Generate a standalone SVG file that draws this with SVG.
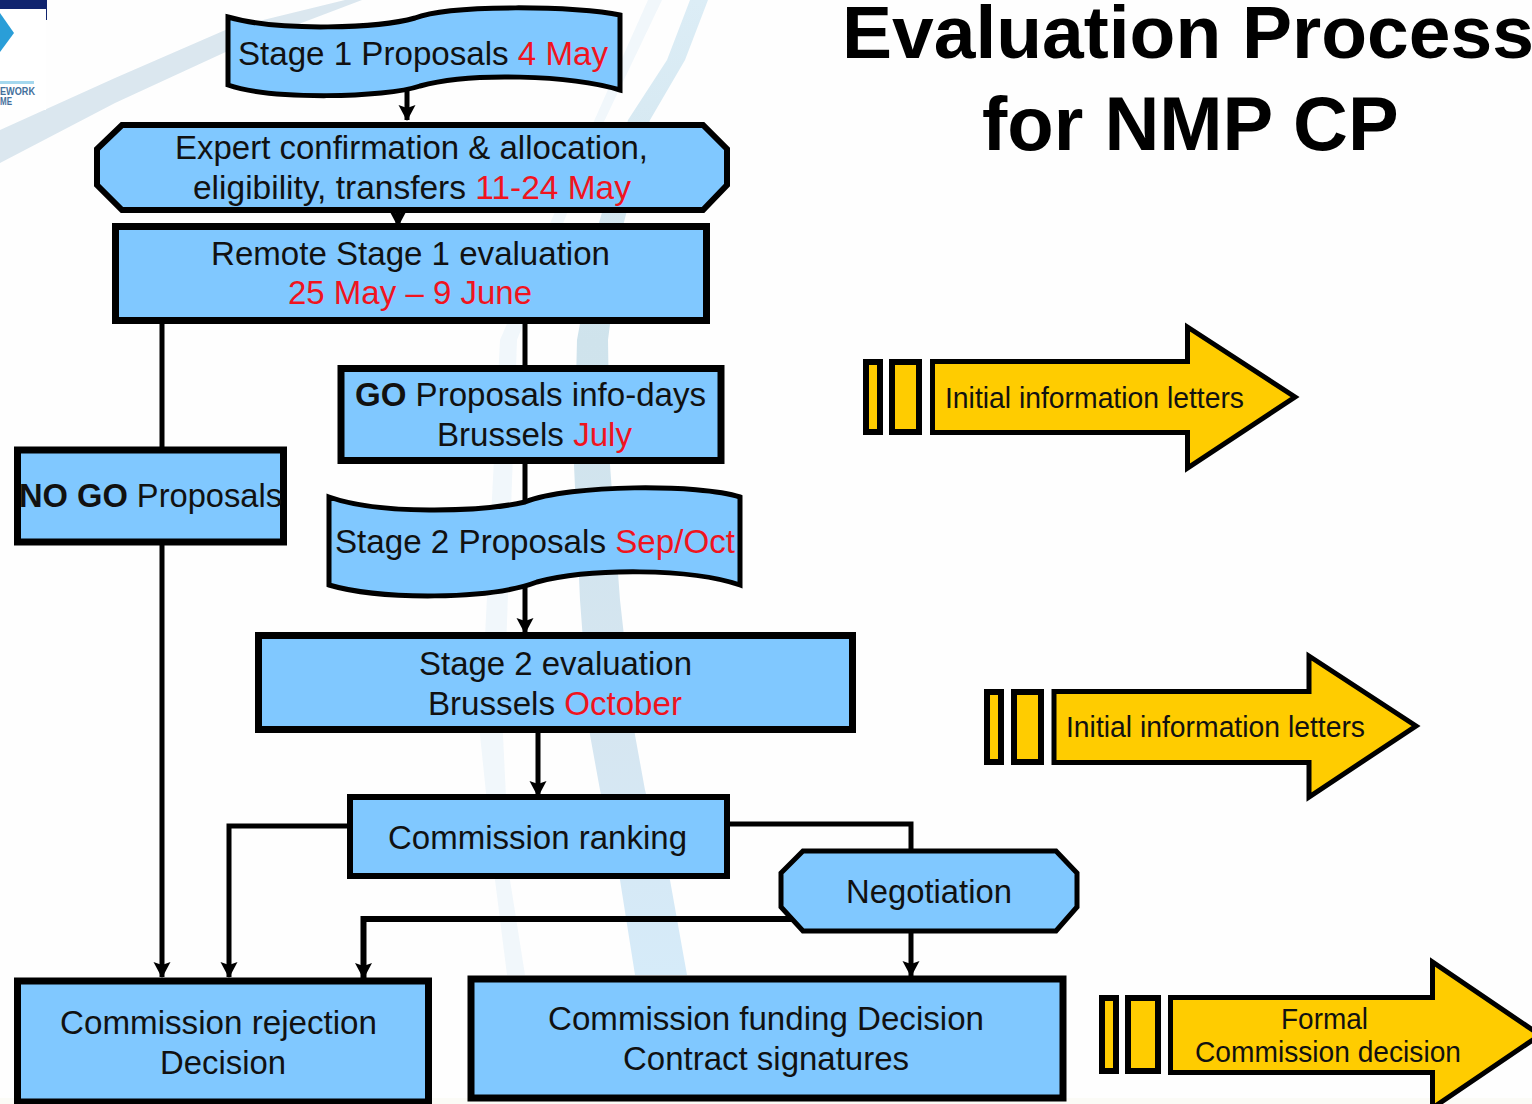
<svg xmlns="http://www.w3.org/2000/svg" width="1532" height="1104" viewBox="0 0 1532 1104">
<style>
text{font-family:"Liberation Sans",Arial,sans-serif;fill:#111}
.t{font-size:33px}
.y{font-size:29px}
.h{font-size:76px;font-weight:700;fill:#000}
.b{font-weight:700}
.r{fill:#f0141e}
.n{fill:#80c8ff;stroke:#000;stroke-width:6}
.a{fill:#ffcc00;stroke:#000;stroke-width:5}
.c{fill:none;stroke:#000;stroke-width:5}
</style>
<defs>
<marker id="ah" markerUnits="userSpaceOnUse" markerWidth="17" markerHeight="18" refX="15" refY="8.500" orient="auto"><path d="M0,0L16,8.500L0,17L3,8.500Z" fill="#000"/></marker>
<linearGradient id="bandR" x1="0" y1="0" x2="0" y2="1"><stop offset="0" stop-color="#dcedf6"/><stop offset="0.35" stop-color="#cfe3ec"/><stop offset="0.75" stop-color="#d6e6f1"/><stop offset="1" stop-color="#d6ebf9"/></linearGradient>
</defs>
<rect width="1532" height="1104" fill="#fefefe"/>
<g id="background">
<path d="M0,130L115,78L230,28L345,0H362L230,50L115,103L0,163Z" fill="#dbe7ef"/>
<path d="M690,0L667,60L628,120L597,230L577,340L574,465L580,600L590,735L600,790L620,880L635,975H687L670,880L645,790L635,735L620,600L610,465L608,340L622,230L650,120L685,60L708,0Z" fill="url(#bandR)"/>
<path d="M648,0L590,130L500,340L480,735L495,880L507,975H525L510,880L503,735L517,340L600,130L662,0Z" fill="#f1f7fb"/>
<rect y="1098" width="1532" height="6" fill="#fbfbf6"/>
</g>
<g id="logo">
<rect x="0" y="8" width="46" height="102" fill="#fff"/>
<rect x="0" y="0" width="47" height="9" fill="#10246e"/>
<rect x="46" y="0" width="1" height="20" fill="#10246e"/>
<path d="M0,13L14,33L0,52Z" fill="#2a9ed8"/>
<rect x="0" y="81" width="34" height="3" fill="#a5d8ee"/>
<text x="0" y="95" font-size="10" font-weight="700" style="fill:#44709c" textLength="35" lengthAdjust="spacingAndGlyphs">EWORK</text>
<text x="0" y="105" font-size="10" font-weight="700" style="fill:#44709c" textLength="12" lengthAdjust="spacingAndGlyphs">ME</text>
</g>
<g id="connectors">
<path class="c" d="M407,85V120" marker-end="url(#ah)"/>
<path class="c" d="M398,210V226" marker-end="url(#ah)"/>
<path class="c" d="M162,324V447"/>
<path class="c" d="M162,545V977" marker-end="url(#ah)"/>
<path class="c" d="M525,324V365"/>
<path class="c" d="M525,463V505"/>
<path class="c" d="M525,580V633" marker-end="url(#ah)"/>
<path class="c" d="M538,733V796" marker-end="url(#ah)"/>
<path class="c" d="M348,826H229V977" marker-end="url(#ah)"/>
<path class="c" d="M729,824H911V850"/>
<path class="c" d="M795,919H363.500V978" style="stroke-width:6" marker-end="url(#ah)"/>
<path class="c" d="M911,932V976" marker-end="url(#ah)"/>
</g>
<g id="stage1">
<path class="n" style="stroke-width:5" d="M228,17C280,32 380,28 415,18C450,4 580,6 620,15V90C570,75 470,72 420,86C385,98 270,100 228,85Z"/>
<text class="t" x="238" y="65" textLength="370" lengthAdjust="spacingAndGlyphs">Stage 1 Proposals <tspan class="r">4 May</tspan></text>
</g>
<g id="expert">
<path class="n" d="M122,125H703L727,149V185L703,210H122L97,185V149Z"/>
<text class="t" x="175" y="159" textLength="473" lengthAdjust="spacingAndGlyphs">Expert confirmation &amp; allocation,</text>
<text class="t" x="193" y="199" textLength="438" lengthAdjust="spacingAndGlyphs">eligibility, transfers <tspan class="r">11-24 May</tspan></text>
</g>
<g id="remote">
<rect class="n" style="stroke-width:7" x="115.500" y="226.500" width="591" height="94"/>
<text class="t" x="211" y="265" textLength="399" lengthAdjust="spacingAndGlyphs">Remote Stage 1 evaluation</text>
<text class="t r" x="288" y="304" textLength="244" lengthAdjust="spacingAndGlyphs">25 May – 9 June</text>
</g>
<g id="go">
<rect class="n" style="stroke-width:7" x="341" y="368.500" width="380" height="92"/>
<text class="t" x="355" y="406" textLength="351" lengthAdjust="spacingAndGlyphs"><tspan class="b">GO</tspan> Proposals info-days</text>
<text class="t" x="437" y="446" textLength="195" lengthAdjust="spacingAndGlyphs">Brussels <tspan class="r">July</tspan></text>
</g>
<g id="nogo">
<rect class="n" style="stroke-width:7" x="17.500" y="450" width="266" height="92"/>
<text class="t" x="19" y="507" textLength="263" lengthAdjust="spacingAndGlyphs"><tspan class="b">NO GO</tspan> Proposals</text>
</g>
<g id="stage2">
<path class="n" style="stroke-width:5" d="M329,497C380,515 480,512 525,502C570,484 700,484 740,497V585C690,568 590,568 537,582C490,600 380,600 329,585Z"/>
<text class="t" x="335" y="553" textLength="400" lengthAdjust="spacingAndGlyphs">Stage 2 Proposals <tspan class="r">Sep/Oct</tspan></text>
</g>
<g id="stage2eval">
<rect class="n" style="stroke-width:7" x="258.500" y="635.500" width="594" height="94"/>
<text class="t" x="419" y="675" textLength="273" lengthAdjust="spacingAndGlyphs">Stage 2 evaluation</text>
<text class="t" x="428" y="715" textLength="254" lengthAdjust="spacingAndGlyphs">Brussels <tspan class="r">October</tspan></text>
</g>
<g id="ranking">
<rect class="n" style="stroke-width:6" x="350" y="797" width="377" height="79"/>
<text class="t" x="388" y="849" textLength="299" lengthAdjust="spacingAndGlyphs">Commission ranking</text>
</g>
<g id="negotiation">
<path class="n" style="stroke-width:5" d="M803,851H1056L1077,873V907L1056,931H803L781,907V873Z"/>
<text class="t" x="846" y="903" textLength="166" lengthAdjust="spacingAndGlyphs">Negotiation</text>
</g>
<g id="rejection">
<rect class="n" style="stroke-width:7" x="17.500" y="981" width="411" height="121"/>
<text class="t" x="60" y="1034" textLength="317" lengthAdjust="spacingAndGlyphs">Commission rejection</text>
<text class="t" x="160" y="1074" textLength="126" lengthAdjust="spacingAndGlyphs">Decision</text>
</g>
<g id="funding">
<rect class="n" style="stroke-width:7" x="471" y="979" width="592" height="119"/>
<text class="t" x="548" y="1030" textLength="436" lengthAdjust="spacingAndGlyphs">Commission funding Decision</text>
<text class="t" x="623" y="1070" textLength="286" lengthAdjust="spacingAndGlyphs">Contract signatures</text>
</g>
<g id="title">
<text class="h" style="font-size:75px" x="842" y="58">Evaluation Process</text>
<text class="h" x="982" y="150">for NMP CP</text>
</g>
<g id="arrow1">
<rect class="a" style="stroke-width:6" x="866" y="362" width="14" height="70"/>
<rect class="a" style="stroke-width:6" x="892" y="362" width="27" height="70"/>
<path class="a" d="M932.500,361.500H1187.500V327L1295,397L1187.500,468V432.500H932.500Z"/>
<text class="y" x="945" y="408" textLength="299" lengthAdjust="spacingAndGlyphs">Initial information letters</text>
</g>
<g id="arrow2">
<rect class="a" style="stroke-width:6" x="987" y="692" width="14" height="70"/>
<rect class="a" style="stroke-width:6" x="1014" y="692" width="27" height="70"/>
<path class="a" d="M1054,691.500H1309V656L1416,726L1309,797V762.500H1054Z"/>
<text class="y" x="1066" y="737" textLength="299" lengthAdjust="spacingAndGlyphs">Initial information letters</text>
</g>
<g id="arrow3">
<rect class="a" style="stroke-width:6" x="1102" y="998" width="14" height="73"/>
<rect class="a" style="stroke-width:6" x="1128" y="998" width="30" height="73"/>
<path class="a" d="M1170.500,997.500H1432.500V962L1540,1035L1432.500,1108V1072.500H1170.500Z"/>
<text class="y" x="1281" y="1029" textLength="87" lengthAdjust="spacingAndGlyphs">Formal</text>
<text class="y" x="1195" y="1062" textLength="266" lengthAdjust="spacingAndGlyphs">Commission decision</text>
</g>
</svg>
